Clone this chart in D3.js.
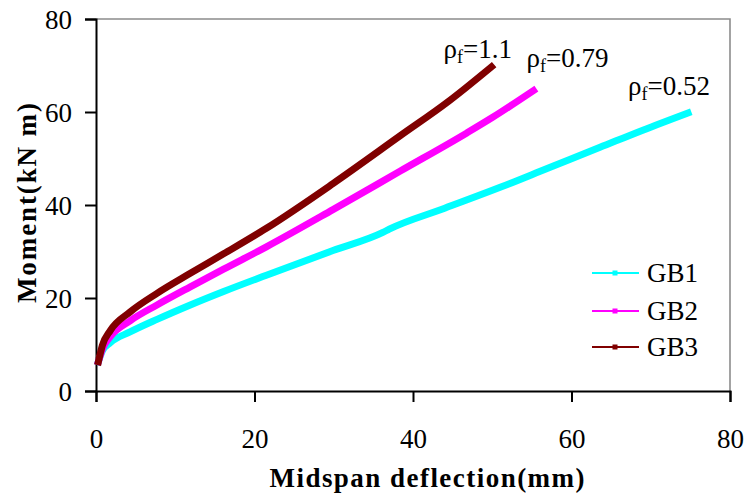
<!DOCTYPE html>
<html>
<head>
<meta charset="utf-8">
<script src="https://cdn.jsdelivr.net/npm/d3@7"></script>
<style>
  html, body { margin: 0; padding: 0; background: #fff; }
  svg { display: block; font-family: "Liberation Serif", "Times New Roman", serif; }
</style>
</head>
<body>
<svg id="chart" width="747" height="502"></svg>
<script>
// Moment vs. midspan deflection for three GFRP-reinforced beams
const seriesNames = ["GB1", "GB2", "GB3"];
const seriesColors = ["#00ffff", "#ff00ff", "#800000"];
const ratioLabels = ["0.52", "0.79", "1.1"];

const gb1Deflection = [0.3, 0.8, 1.8, 4.3, 7.7, 11.9, 16.1, 21.5, 29.9, 36.2, 37.0, 44.0, 51.0, 57.0, 63.6, 69.0, 74.7];
const gb1Moment     = [6.3, 8.6, 10.4, 12.7, 15.4, 18.5, 21.4, 24.9, 30.2, 34.1, 34.8, 39.3, 43.8, 47.9, 52.4, 56.1, 59.8];

const gb2Deflection = [0.3, 0.8, 1.8, 4.3, 7.7, 11.9, 16.1, 21.5, 29.9, 38.4, 46.8, 50.0, 55.2];
const gb2Moment     = [6.3, 9.0, 11.7, 15.1, 18.5, 22.4, 26.2, 31.0, 39.0, 47.3, 55.5, 58.8, 64.6];

const gb3Deflection = [0.3, 0.8, 1.8, 4.3, 7.7, 11.9, 16.1, 21.5, 29.9, 38.4, 44.5, 49.9];
const gb3Moment     = [6.3, 9.8, 13.0, 17.0, 21.0, 25.3, 29.5, 35.0, 44.6, 54.9, 62.3, 69.7];

const xTicks = [0, 20, 40, 60, 80];
const yTicks = [0, 20, 40, 60, 80];

const series = [
  { name: seriesNames[0], color: seriesColors[0], rho: ratioLabels[0],
    pts: gb1Deflection.map((d, i) => [d, gb1Moment[i]]) },
  { name: seriesNames[1], color: seriesColors[1], rho: ratioLabels[1],
    pts: gb2Deflection.map((d, i) => [d, gb2Moment[i]]) },
  { name: seriesNames[2], color: seriesColors[2], rho: ratioLabels[2],
    pts: gb3Deflection.map((d, i) => [d, gb3Moment[i]]) }
];

const svg = d3.select("#chart");
const plotLeft = 96, plotRight = 730, plotTop = 19, plotBottom = 391;

const x = d3.scaleLinear().domain([0, 80]).range([plotLeft, plotRight]);
const y = d3.scaleLinear().domain([0, 80]).range([plotBottom, plotTop]);

// plot-area frame (top and right edges in grey)
svg.append("path")
  .attr("d", `M${plotLeft},${plotTop}H${plotRight}V${plotBottom}`)
  .attr("fill", "none").attr("stroke", "#8c8c8c").attr("stroke-width", 1.6);

// axes
const xAxis = svg.append("g").attr("transform", `translate(0,${plotBottom})`)
  .call(d3.axisBottom(x).tickValues(xTicks).tickSize(11).tickPadding(27).tickFormat(d3.format("d")));
const yAxis = svg.append("g").attr("transform", `translate(${plotLeft},0)`)
  .call(d3.axisLeft(y).tickValues(yTicks).tickSize(11).tickPadding(13).tickFormat(d3.format("d")));

[xAxis, yAxis].forEach(g => {
  g.select(".domain").attr("stroke", "#000").attr("stroke-width", 2);
  g.selectAll(".tick line").attr("stroke", "#000").attr("stroke-width", 2);
  g.selectAll(".tick text").attr("fill", "#000")
    .style("font-family", "Liberation Serif").style("font-size", "27px");
});
yAxis.selectAll(".tick text").attr("dy", "0.34em");

// data curves
const line = d3.line().x(d => x(d[0])).y(d => y(d[1])).curve(d3.curveMonotoneX);
series.forEach(s => {
  svg.append("path").datum(s.pts)
    .attr("d", line)
    .attr("fill", "none")
    .attr("stroke", s.color)
    .attr("stroke-width", 7)
    .attr("stroke-linejoin", "round")
    .attr("stroke-linecap", "square");
});

// reinforcement ratio labels at the end of each curve
const labelPos = [
  { dx: -60, dy: -18 },
  { dx: -7, dy: -24 },
  { dx: -48, dy: -9 }
];
series.forEach((s, i) => {
  const last = s.pts[s.pts.length - 1];
  const t = svg.append("text")
    .attr("x", x(last[0]) + labelPos[i].dx)
    .attr("y", y(last[1]) + labelPos[i].dy)
    .attr("fill", "#000")
    .style("font-size", "27px");
  t.append("tspan").text("ρ");
  t.append("tspan").attr("dy", 5).style("font-size", "18px").text("f");
  t.append("tspan").attr("dy", -5).text("=" + s.rho);
});

// legend
const legendY = [273, 311, 347];
series.forEach((s, i) => {
  const g = svg.append("g");
  g.append("line")
    .attr("x1", 592).attr("x2", 639)
    .attr("y1", legendY[i]).attr("y2", legendY[i])
    .attr("stroke", s.color).attr("stroke-width", 2);
  g.append("rect")
    .attr("x", 612.5).attr("y", legendY[i] - 2.5)
    .attr("width", 5).attr("height", 5)
    .attr("fill", s.color);
  g.append("text")
    .attr("x", 647).attr("y", legendY[i] + 9)
    .attr("fill", "#000")
    .style("font-size", "27px")
    .text(s.name);
});

// axis titles
svg.append("text")
  .attr("x", 427).attr("y", 487)
  .attr("text-anchor", "middle")
  .attr("fill", "#000")
  .style("font-size", "27px").style("font-weight", "bold")
  .attr("textLength", 315).attr("lengthAdjust", "spacing")
  .text("Midspan deflection(mm)");

svg.append("text")
  .attr("transform", "translate(36,203) rotate(-90)")
  .attr("text-anchor", "middle")
  .attr("fill", "#000")
  .style("font-size", "27px").style("font-weight", "bold")
  .attr("textLength", 200).attr("lengthAdjust", "spacing")
  .text("Moment(kN m)");
</script>
</body>
</html>
